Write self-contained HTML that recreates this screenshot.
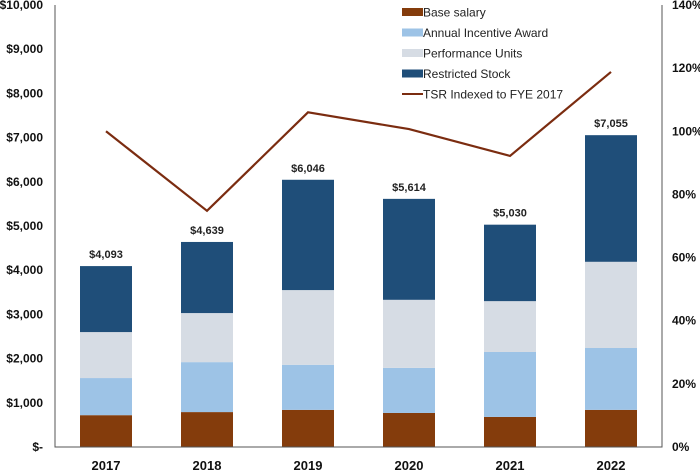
<!DOCTYPE html>
<html><head><meta charset="utf-8"><style>
body{margin:0;background:#fff;}
svg{display:block;font-family:"Liberation Sans",sans-serif;}
</style></head><body>
<svg id="chart" width="700" height="471"></svg>
<script>
const years=["2017","2018","2019","2020","2021","2022"];
const baseSalary=[720,790,840,770,680,840];
const annualIncentive=[840,1130,1020,1020,1470,1400];
const perfUnits=[1040,1110,1690,1540,1150,1950];
const restrictedStock=[1493,1609,2496,2284,1730,2865];
const totalLabels=["$4,093","$4,639","$6,046","$5,614","$5,030","$7,055"];
const tsr=[100,74.8,106,100.7,92.2,118.8];
const leftTicks=[0,1000,2000,3000,4000,5000,6000,7000,8000,9000,10000];
const leftTickLabels=["$-","$1,000","$2,000","$3,000","$4,000","$5,000","$6,000","$7,000","$8,000","$9,000","$10,000"];
const rightTicks=[0,20,40,60,80,100,120,140];
const rightTickLabels=["0%","20%","40%","60%","80%","100%","120%","140%"];

const NS="http://www.w3.org/2000/svg";
const svg=document.getElementById('chart');
const X0=55,X1=662,Y0=447,Y1=5;
const yL=v=>Y0-(v/10000)*(Y0-Y1);
const yR=v=>Y0-(v/140)*(Y0-Y1);
const xC=i=>106+i*101;
const BW=52;
function el(t,a,p){const e=document.createElementNS(NS,t);for(const k in a)e.setAttribute(k,a[k]);(p||svg).appendChild(e);return e;}

const segs=[[baseSalary,"#843C0C","base-salary"],[annualIncentive,"#9DC3E6","annual-incentive"],[perfUnits,"#D6DCE4","performance-units"],[restrictedStock,"#1F4E79","restricted-stock"]];
years.forEach((yr,i)=>{
  let acc=0;
  segs.forEach(([arr,col,nm])=>{
    const v=arr[i];
    const r=el('rect',{x:xC(i)-BW/2,y:yL(acc+v),width:BW,height:yL(acc)-yL(acc+v),fill:col});
    
    
    acc+=v;
  });
  const t=el('text',{x:xC(i),y:yL(acc)-8,'text-anchor':'middle','font-size':11,'font-weight':'bold',fill:'#222'});
  t.textContent=totalLabels[i];
  
  
  const xl=el('text',{x:xC(i),y:470,'text-anchor':'middle','font-size':13,'font-weight':'bold',fill:'#111'});
  xl.textContent=yr;
  
  
});
const axes=el('path',{d:`M${X0},${Y1}V${Y0}H${X1}V${Y1}`,fill:'none',stroke:'#555','stroke-width':1});


leftTicks.forEach((v,i)=>{
  const t=el('text',{x:43,y:yL(v)+4,'text-anchor':'end','font-size':12,'font-weight':'bold',fill:'#111'});
  t.textContent=leftTickLabels[i];
  
  
});
rightTicks.forEach((v,i)=>{
  const t=el('text',{x:672,y:yR(v)+4,'text-anchor':'start','font-size':12,'font-weight':'bold',fill:'#111'});
  t.textContent=rightTickLabels[i];
  
  
});
const pts=tsr.map((v,i)=>xC(i)+','+yR(v)).join(' ');
const ln=el('polyline',{points:pts,fill:'none',stroke:'#7B2C10','stroke-width':2.2});


const leg=[["Base salary","#843C0C","rect"],["Annual Incentive Award","#9DC3E6","rect"],["Performance Units","#D6DCE4","rect"],["Restricted Stock","#1F4E79","rect"],["TSR Indexed to FYE 2017","#7B2C10","line"]];
leg.forEach((L,i)=>{
  const cy=12+i*20.5;
  const g=el('g',{});
  
  
  if(L[2]==='rect') el('rect',{x:402,y:cy-4,width:21,height:8,fill:L[1]},g);
  else el('line',{x1:402,x2:423,y1:cy,y2:cy,stroke:L[1],'stroke-width':2},g);
  const t=el('text',{x:423,y:cy+4.5,'font-size':12,fill:'#222'},g);
  t.textContent=L[0];
});
</script>
</body></html>
